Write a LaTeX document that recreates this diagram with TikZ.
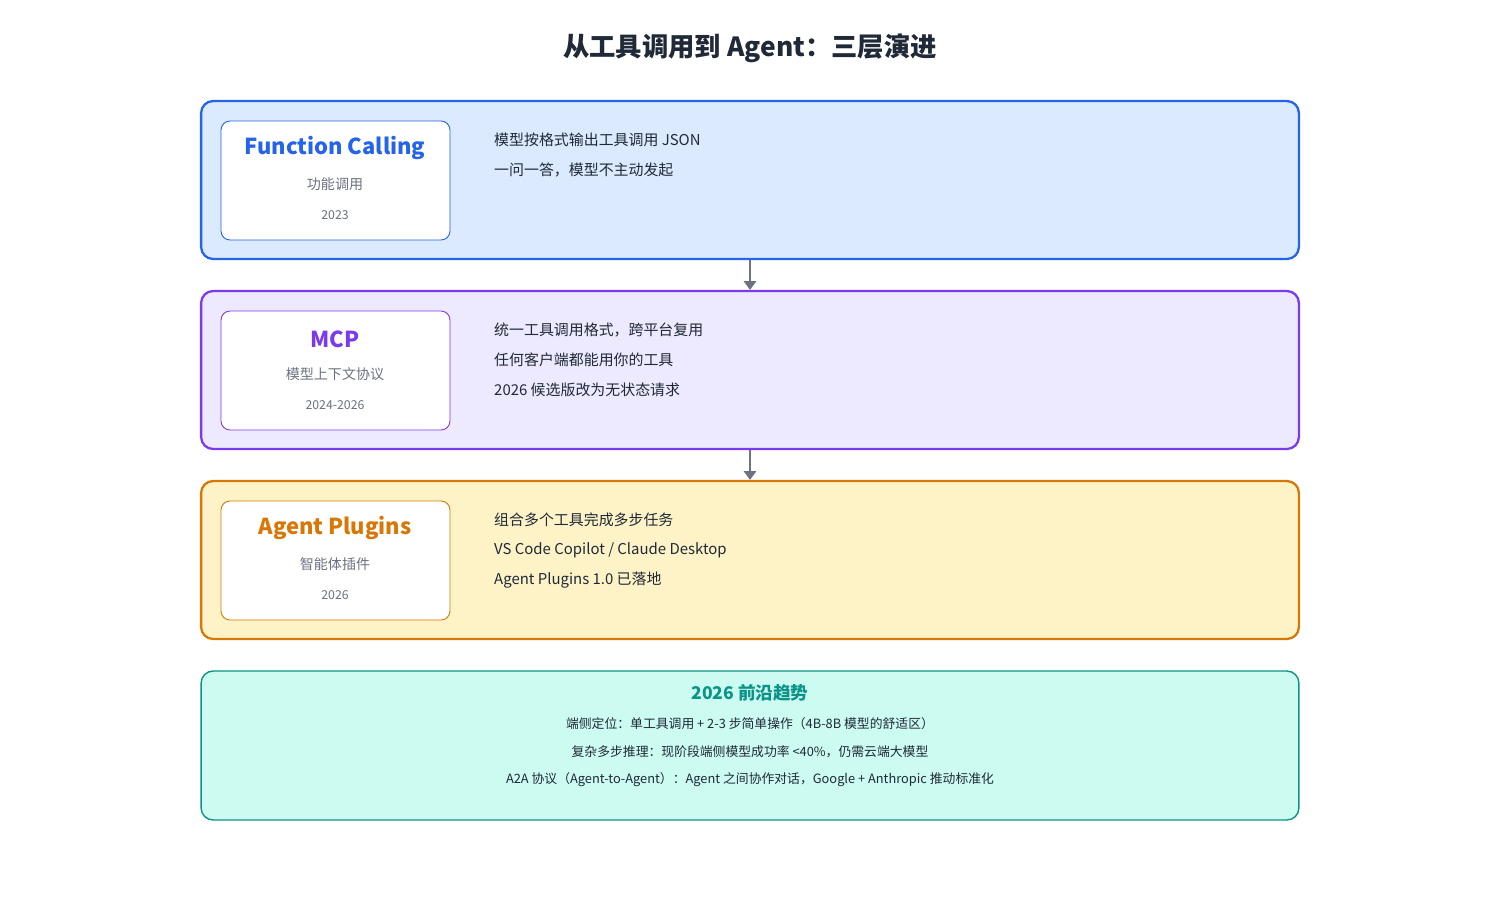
\documentclass[tikz,border=0pt]{standalone}
\usepackage{fontspec}
\setmainfont{Noto Sans CJK SC}
\usetikzlibrary{positioning,arrows.meta}
\definecolor{fcline}{HTML}{2563EB}\definecolor{fcfill}{HTML}{DBEAFE}
\definecolor{mcpline}{HTML}{7C3AED}\definecolor{mcpfill}{HTML}{EDE9FE}
\definecolor{apline}{HTML}{D97706}\definecolor{apfill}{HTML}{FEF3C7}
\definecolor{trline}{HTML}{0D9488}\definecolor{trfill}{HTML}{CCFBF1}
\definecolor{ink}{HTML}{1F2937}\definecolor{sub}{HTML}{6B7280}

\begin{document}
\begin{tikzpicture}[x=0.02cm,y=-0.02cm,
  layer/.style={draw=#1line,fill=#1fill,line width=1.3pt,rounded corners=0.24cm,
    minimum width=21.96cm,minimum height=3.16cm,inner sep=0pt},
  tag/.style={draw=#1line,fill=white,line width=0.5pt,rounded corners=0.18cm,
    minimum width=4.58cm,minimum height=2.38cm,inner sep=0pt},
  head/.style={text=#1line,font=\fontsize{12.5}{14}\selectfont\bfseries},
  note/.style={text=sub,font=\fontsize{8}{9}\selectfont},
  year/.style={text=sub,font=\fontsize{7}{8}\selectfont},
  item/.style={text=ink,font=\fontsize{8.5}{10}\selectfont,anchor=west},
  small/.style={text=ink,font=\fontsize{7.3}{9}\selectfont},
  link/.style={draw=sub,line width=1.2pt,-{Triangle[length=5pt,width=7pt]}}]
  \path[use as bounding box] (0,0) rectangle (1500,900);

  \node[text=ink,font=\fontsize{15}{18}\selectfont\bfseries] (title) at (750,48) {从工具调用到 Agent：三层演进};

  % layer 1
  \node[layer=fc] (fc) at (750,180) {};
  \node[tag=fc] (fcTag) at (335.5,180.5) {};
  \node[head=fc] (fcHead) at (335,148) {Function Calling};
  \node[note] (fcNote) at (335,184) {功能调用};
  \node[year] (fcYear) at (335,215) {2023};
  \node[item] (fcA) at (488,140) {模型按格式输出工具调用 JSON};
  \node[item] (fcB) at (488,170) {一问一答，模型不主动发起};

  % layer 2
  \node[layer=mcp] (mcp) at (750,370) {};
  \node[tag=mcp] (mcpTag) at (335.5,370.5) {};
  \node[head=mcp] (mcpHead) at (335,339) {MCP};
  \node[note] (mcpNote) at (335,374) {模型上下文协议};
  \node[year] (mcpYear) at (335,405) {2024-2026};
  \node[item] (mcpA) at (488,330) {统一工具调用格式，跨平台复用};
  \node[item] (mcpB) at (488,360) {任何客户端都能用你的工具};
  \node[item] (mcpC) at (488,390) {2026 候选版改为无状态请求};

  % layer 3
  \node[layer=ap] (ap) at (750,560) {};
  \node[tag=ap] (apTag) at (335.5,560.5) {};
  \node[head=ap] (apHead) at (335,528) {Agent Plugins};
  \node[note] (apNote) at (335,564) {智能体插件};
  \node[year] (apYear) at (335,595) {2026};
  \node[item] (apA) at (488,520) {组合多个工具完成多步任务};
  \node[item] (apB) at (488,550) {VS Code Copilot / Claude Desktop};
  \node[item] (apC) at (488,580) {Agent Plugins 1.0 已落地};

  % trends
  \node[layer=tr,line width=0.8pt,minimum height=2.98cm] (tr) at (750,745.5) {};
  \node[text=trline,font=\fontsize{10}{12}\selectfont\bfseries] (trHead) at (750,693) {2026 前沿趋势};
  \node[small] (trA) at (750,724) {端侧定位：单工具调用 + 2-3 步简单操作（4B-8B 模型的舒适区）};
  \node[small] (trB) at (750,752) {复杂多步推理：现阶段端侧模型成功率 <40\%，仍需云端大模型};
  \node[small] (trC) at (750,780) {A2A 协议（Agent-to-Agent）：Agent 之间协作对话，Google + Anthropic 推动标准化};

  \draw[link] (fc) -- (mcp);
  \draw[link] (mcp) -- (ap);
\end{tikzpicture}
\end{document}
